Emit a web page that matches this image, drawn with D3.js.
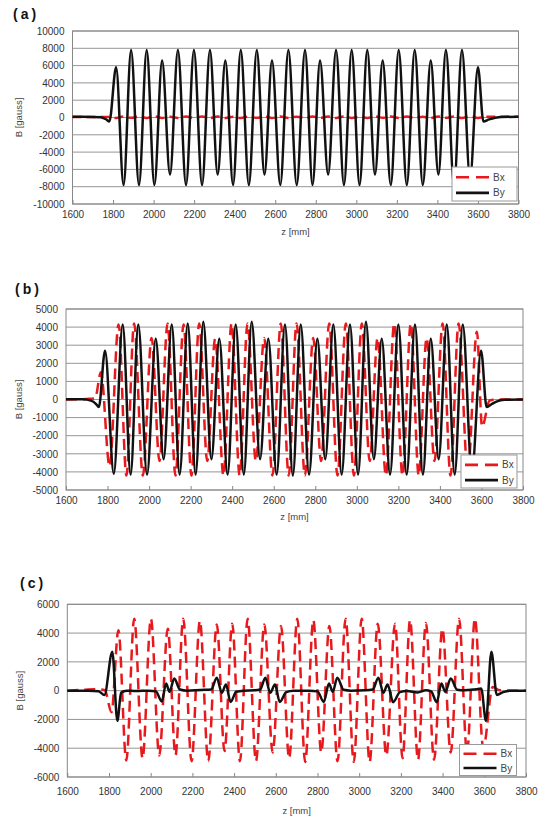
<!DOCTYPE html>
<html>
<head>
<meta charset="utf-8">
<script src="https://cdn.jsdelivr.net/npm/d3@7"></script>
<style>
  html, body { margin: 0; padding: 0; background: #fff; }
  svg { display: block; font-family: "Liberation Sans", Arial, sans-serif; }
</style>
</head>
<body>
<svg id="fig" width="541" height="819"></svg>
<script>
// ---------- axis ticks ----------
const zTicks  = [1600, 1800, 2000, 2200, 2400, 2600, 2800, 3000, 3200, 3400, 3600, 3800];
const bTicksA = [-10000, -8000, -6000, -4000, -2000, 0, 2000, 4000, 6000, 8000, 10000];
const bTicksB = [-5000, -4000, -3000, -2000, -1000, 0, 1000, 2000, 3000, 4000, 5000];
const bTicksC = [-6000, -4000, -2000, 0, 2000, 4000, 6000];
const seriesNames = ["Bx", "By"];

// ---------- panel (a) ----------
// By: field outside the undulator, then pole peaks and troughs
const aByLeadZ = [1600, 1700, 1740, 1765, 1782];
const aByLeadB = [80, 70, 40, -200, -450];
const aByPeakZ = [1815, 1889, 1966, 2042, 2120, 2199, 2278, 2354, 2430, 2509, 2584, 2665,
                  2747, 2821, 2900, 2977, 3054, 3130, 3209, 3288, 3367, 3442, 3521, 3600];
const aByPeakB = [5800, 7800, 7800, 6600, 7800, 7800, 7800, 6600, 7800, 7800, 6600, 7800,
                  7800, 6600, 7800, 7800, 7800, 6600, 7800, 7800, 6600, 7800, 7800, 5800];
const aByTroughZ = [1852, 1928, 2004, 2081, 2160, 2239, 2316, 2392, 2470, 2547, 2625, 2706,
                    2784, 2861, 2939, 3016, 3092, 3170, 3249, 3328, 3405, 3482, 3561];
const aByTroughB = [-7800, -7800, -7800, -6600, -7800, -7800, -6600, -7800, -7800, -6600, -7800, -7800,
                    -7800, -6600, -7800, -7800, -6600, -7800, -7800, -7800, -6600, -7800, -7000];
const aByTailZ = [3627, 3655, 3685, 3715, 3800];
const aByTailB = [-460, -220, -30, 60, 80];
// Bx stays close to zero
const aBxZ = [1600, 1780, 1815, 1852, 1889, 1928, 1966, 2004, 2042, 2081, 2120, 2160, 2199, 2239,
              2278, 2316, 2354, 2392, 2430, 2470, 2509, 2547, 2584, 2625, 2665, 2706, 2747, 2784,
              2821, 2861, 2900, 2939, 2977, 3016, 3054, 3092, 3130, 3170, 3209, 3249, 3288, 3328,
              3367, 3405, 3442, 3482, 3521, 3561, 3600, 3640, 3800];
const aBxB = [60, 60, -60, 120, -40, 110, -60, 120, -50, 100, -60, 120, -40, 110,
              -60, 120, -50, 100, -60, 120, -40, 110, -60, 120, -50, 100, -60, 120,
              -40, 110, -60, 120, -50, 100, -60, 120, -40, 110, -60, 120, -50, 100,
              -60, 120, -40, 110, -60, 120, -50, 80, 80];

// ---------- panel (b) ----------
const bByLeadZ = [1600, 1680, 1720, 1745, 1758];
const bByLeadB = [20, 10, -60, -250, -420];
const bByPeakZ = [1788, 1873, 1948, 2032, 2109, 2186, 2261, 2338, 2417, 2494, 2574, 2654,
                  2730, 2810, 2887, 2967, 3044, 3120, 3200, 3280, 3356, 3433, 3510, 3598];
const bByPeakB = [2700, 4150, 4150, 3350, 4150, 4200, 4300, 3350, 4150, 4300, 3350, 4150,
                  4150, 3350, 4150, 4150, 4300, 3350, 4150, 4150, 3350, 4150, 4150, 2700];
const bByTroughZ = [1830, 1911, 1990, 2070, 2147, 2224, 2300, 2378, 2456, 2534, 2614, 2692,
                    2770, 2848, 2927, 3006, 3082, 3160, 3240, 3318, 3394, 3471, 3554];
const bByTroughB = [-4100, -4150, -4150, -3300, -4150, -4150, -3300, -4150, -4150, -3300, -4150, -4200,
                    -4150, -3300, -4150, -4150, -3300, -4150, -4150, -4150, -3300, -4150, -4000];
const bByTailZ = [3625, 3650, 3675, 3710, 3800];
const bByTailB = [-420, -250, -100, -20, 0];

const bBxLeadZ = [1600, 1700, 1740];
const bBxLeadB = [0, 30, 60];
const bBxPeakZ = [1768, 1853, 1928, 2012, 2089, 2166, 2241, 2318, 2397, 2474, 2554, 2634,
                  2710, 2790, 2867, 2947, 3024, 3100, 3180, 3260, 3336, 3413, 3490, 3578];
const bBxPeakB = [1500, 4150, 4200, 3400, 4200, 4150, 4200, 3350, 4200, 4200, 3400, 4200,
                  4200, 3400, 4200, 4200, 4200, 3400, 4200, 4200, 3400, 4200, 4200, 3750];
const bBxTroughZ = [1810, 1891, 1970, 2050, 2127, 2204, 2280, 2358, 2436, 2514, 2594, 2672,
                    2750, 2828, 2907, 2986, 3062, 3140, 3220, 3298, 3374, 3451, 3534, 3603];
const bBxTroughB = [-3700, -4200, -4200, -3400, -4200, -4200, -3400, -4200, -4200, -3400, -4200, -4200,
                    -4200, -3400, -4200, -4200, -3400, -4200, -4200, -4200, -3400, -4200, -4000, -1500];
const bBxTailZ = [3640, 3680, 3800];
const bBxTailB = [-50, 0, 0];

// ---------- panel (c) ----------
const cByZ = [1600, 1700, 1750, 1778, 1816, 1840, 1858, 1885, 1930, 1990,
              2025, 2053, 2074, 2090, 2113, 2140, 2175, 2240,
              2290, 2317, 2341, 2361, 2383, 2410, 2445, 2500,
              2525, 2550, 2573, 2596, 2619, 2650, 2685, 2760,
              2800, 2830, 2855, 2873, 2895, 2925, 2960, 3030,
              3065, 3092, 3116, 3136, 3163, 3195, 3230, 3280, 3320,
              3345, 3372, 3394, 3413, 3439, 3470, 3505, 3560, 3585,
              3608, 3634, 3660, 3690, 3725, 3800];
const cByB = [0, 0, -40, -300, 2700, -2100, -150, 0, -30, 0,
              -50, -750, 500, -80, 850, 80, 0, 50,
              80, 900, -150, 420, -780, -80, 0, 20,
              80, 900, -150, 420, -780, -100, 0, 0,
              -50, -780, 500, -80, 900, 60, 0, 20,
              80, 900, -150, 420, -800, -100, -20, -120, 30,
              -50, -800, 500, -80, 850, 60, 20, 100, 150,
              -2100, 2700, -300, -100, 0, 0];

const cBxLeadZ = [1600, 1680, 1740, 1780];
const cBxLeadB = [0, 60, 100, 30];
const cBxPeakZ = [1845, 1921, 2001, 2082, 2156, 2236, 2317, 2391, 2465, 2545, 2625, 2703,
                  2780, 2857, 2935, 3012, 3089, 3172, 3244, 3320, 3399, 3479, 3555];
const cBxPeakB = [4200, 5000, 5000, 4300, 5000, 4850, 4600, 4650, 5000, 4600, 4500, 5000,
                  4900, 4500, 5000, 5000, 4650, 4650, 4900, 4700, 4300, 5000, 5000];
const cBxTroughZ = [1812, 1883, 1961, 2041, 2119, 2196, 2276, 2354, 2428, 2505, 2585, 2664,
                    2741, 2818, 2896, 2974, 3050, 3130, 3208, 3282, 3359, 3439, 3517, 3595];
const cBxTroughB = [-1500, -4850, -4700, -4500, -4500, -4900, -4900, -4200, -4900, -4900, -4300, -4700,
                    -4950, -4300, -4900, -4950, -4950, -4500, -4700, -4800, -4800, -4300, -4300, -4000];
const cBxTailZ = [3640, 3670, 3720, 3800];
const cBxTailB = [250, 50, 0, 0];

// ---------- helpers ----------
function pts(...pairs) {
  // pairs: [zArray, bArray, ...] -> sorted list of {z, b}
  const out = [];
  for (let i = 0; i < pairs.length; i += 2) {
    pairs[i].forEach((z, k) => out.push({ z, b: pairs[i + 1][k] }));
  }
  return out.sort((p, q) => p.z - q.z);
}

const RED = "#e8191c", BLACK = "#111";
const svg = d3.select("#fig");
svg.append("rect").attr("width", 541).attr("height", 819).attr("fill", "#fff");

function panel(p) {
  const g = svg.append("g");
  const x = d3.scaleLinear().domain([zTicks[0], zTicks[zTicks.length - 1]]).range([p.left, p.right]);
  const y = d3.scaleLinear().domain([p.ticks[0], p.ticks[p.ticks.length - 1]]).range([p.bottom, p.top]);

  // horizontal gridlines
  g.append("g").selectAll("line").data(p.ticks).join("line")
    .attr("x1", p.left).attr("x2", p.right)
    .attr("y1", d => y(d)).attr("y2", d => y(d))
    .attr("stroke", "#959595").attr("stroke-width", 1);

  // y axis labels
  const ya = g.append("g").attr("transform", `translate(${p.left},0)`)
    .call(d3.axisLeft(y).tickValues(p.ticks).tickSize(0).tickPadding(8).tickFormat(d => String(d)));
  ya.select(".domain").remove();
  ya.selectAll("text").attr("font-family", "Liberation Sans, Arial, sans-serif")
    .attr("font-size", 10).attr("fill", "#333");

  // x axis with inward tick marks
  const xa = g.append("g").attr("transform", `translate(0,${p.bottom})`)
    .call(d3.axisBottom(x).tickValues(zTicks).tickSizeInner(-4).tickSizeOuter(0)
      .tickPadding(p.xPad).tickFormat(d => String(d)));
  xa.select(".domain").remove();
  xa.selectAll("line").attr("stroke", "#888");
  xa.selectAll("text").attr("font-family", "Liberation Sans, Arial, sans-serif")
    .attr("font-size", 10).attr("fill", "#333");

  // plot frame
  g.append("rect").attr("x", p.left).attr("y", p.top)
    .attr("width", p.right - p.left).attr("height", p.bottom - p.top)
    .attr("fill", "none").attr("stroke", "#888").attr("stroke-width", 1);

  const line = d3.line().x(d => x(d.z)).y(d => y(d.b)).curve(d3.curveMonotoneX);

  g.append("path").datum(p.bx).attr("d", line)
    .attr("fill", "none").attr("stroke", RED).attr("stroke-width", 2.5)
    .attr("stroke-dasharray", p.dash).attr("stroke-linejoin", "round");
  g.append("path").datum(p.by).attr("d", line)
    .attr("fill", "none").attr("stroke", BLACK).attr("stroke-width", 2.5)
    .attr("stroke-linejoin", "round");

  // legend
  const L = p.legend;
  const lg = g.append("g").attr("transform", `translate(${L.x},${L.y})`);
  lg.append("rect").attr("width", L.w).attr("height", L.h)
    .attr("fill", "#fff").attr("stroke", "#999").attr("stroke-width", 1);
  seriesNames.forEach((name, i) => {
    const yy = L.h * (i === 0 ? 0.3 : 0.76);
    lg.append("line").attr("x1", 4).attr("x2", 37).attr("y1", yy).attr("y2", yy)
      .attr("stroke", i === 0 ? RED : BLACK).attr("stroke-width", 2.6)
      .attr("stroke-dasharray", i === 0 ? "13,7" : null);
    lg.append("text").attr("x", 41).attr("y", yy + 3.5)
      .attr("font-size", 10).attr("fill", "#444").text(name);
  });

  // titles and axis names
  svg.append("text").attr("x", p.titleX).attr("y", p.titleY)
    .attr("font-size", 14).attr("font-weight", "bold").attr("letter-spacing", 3)
    .attr("fill", "#111").text(p.title);
  svg.append("text")
    .attr("transform", `translate(${p.yLabelX},${(p.top + p.bottom) / 2}) rotate(-90)`)
    .attr("text-anchor", "middle").attr("font-size", 9.5).attr("fill", "#444")
    .text("B [gauss]");
  svg.append("text").attr("x", (p.left + p.right) / 2).attr("y", p.zLabelY)
    .attr("text-anchor", "middle").attr("font-size", 9.5).attr("fill", "#444")
    .text("z [mm]");
}

panel({
  title: "(a)", titleX: 13, titleY: 19,
  left: 72.5, right: 518.5, top: 31, bottom: 204, ticks: bTicksA, xPad: 7,
  yLabelX: 22, zLabelY: 235, dash: "9,5",
  by: pts(aByLeadZ, aByLeadB, aByPeakZ, aByPeakB, aByTroughZ, aByTroughB, aByTailZ, aByTailB),
  bx: pts(aBxZ, aBxB),
  legend: { x: 452, y: 167, w: 65, h: 34 }
});

panel({
  title: "(b)", titleX: 15, titleY: 294,
  left: 66, right: 523, top: 309, bottom: 490, ticks: bTicksB, xPad: 7,
  yLabelX: 22, zLabelY: 520, dash: "11,6",
  by: pts(bByLeadZ, bByLeadB, bByPeakZ, bByPeakB, bByTroughZ, bByTroughB, bByTailZ, bByTailB),
  bx: pts(bBxLeadZ, bBxLeadB, bBxPeakZ, bBxPeakB, bBxTroughZ, bBxTroughB, bBxTailZ, bBxTailB),
  legend: { x: 461, y: 455, w: 56, h: 33 }
});

panel({
  title: "(c)", titleX: 20, titleY: 588,
  left: 67.3, right: 526, top: 604.3, bottom: 777, ticks: bTicksC, xPad: 11,
  yLabelX: 23, zLabelY: 814, dash: "11,6",
  by: pts(cByZ, cByB),
  bx: pts(cBxLeadZ, cBxLeadB, cBxPeakZ, cBxPeakB, cBxTroughZ, cBxTroughB, cBxTailZ, cBxTailB),
  legend: { x: 459.5, y: 744.5, w: 57, h: 31 }
});
</script>
</body>
</html>
